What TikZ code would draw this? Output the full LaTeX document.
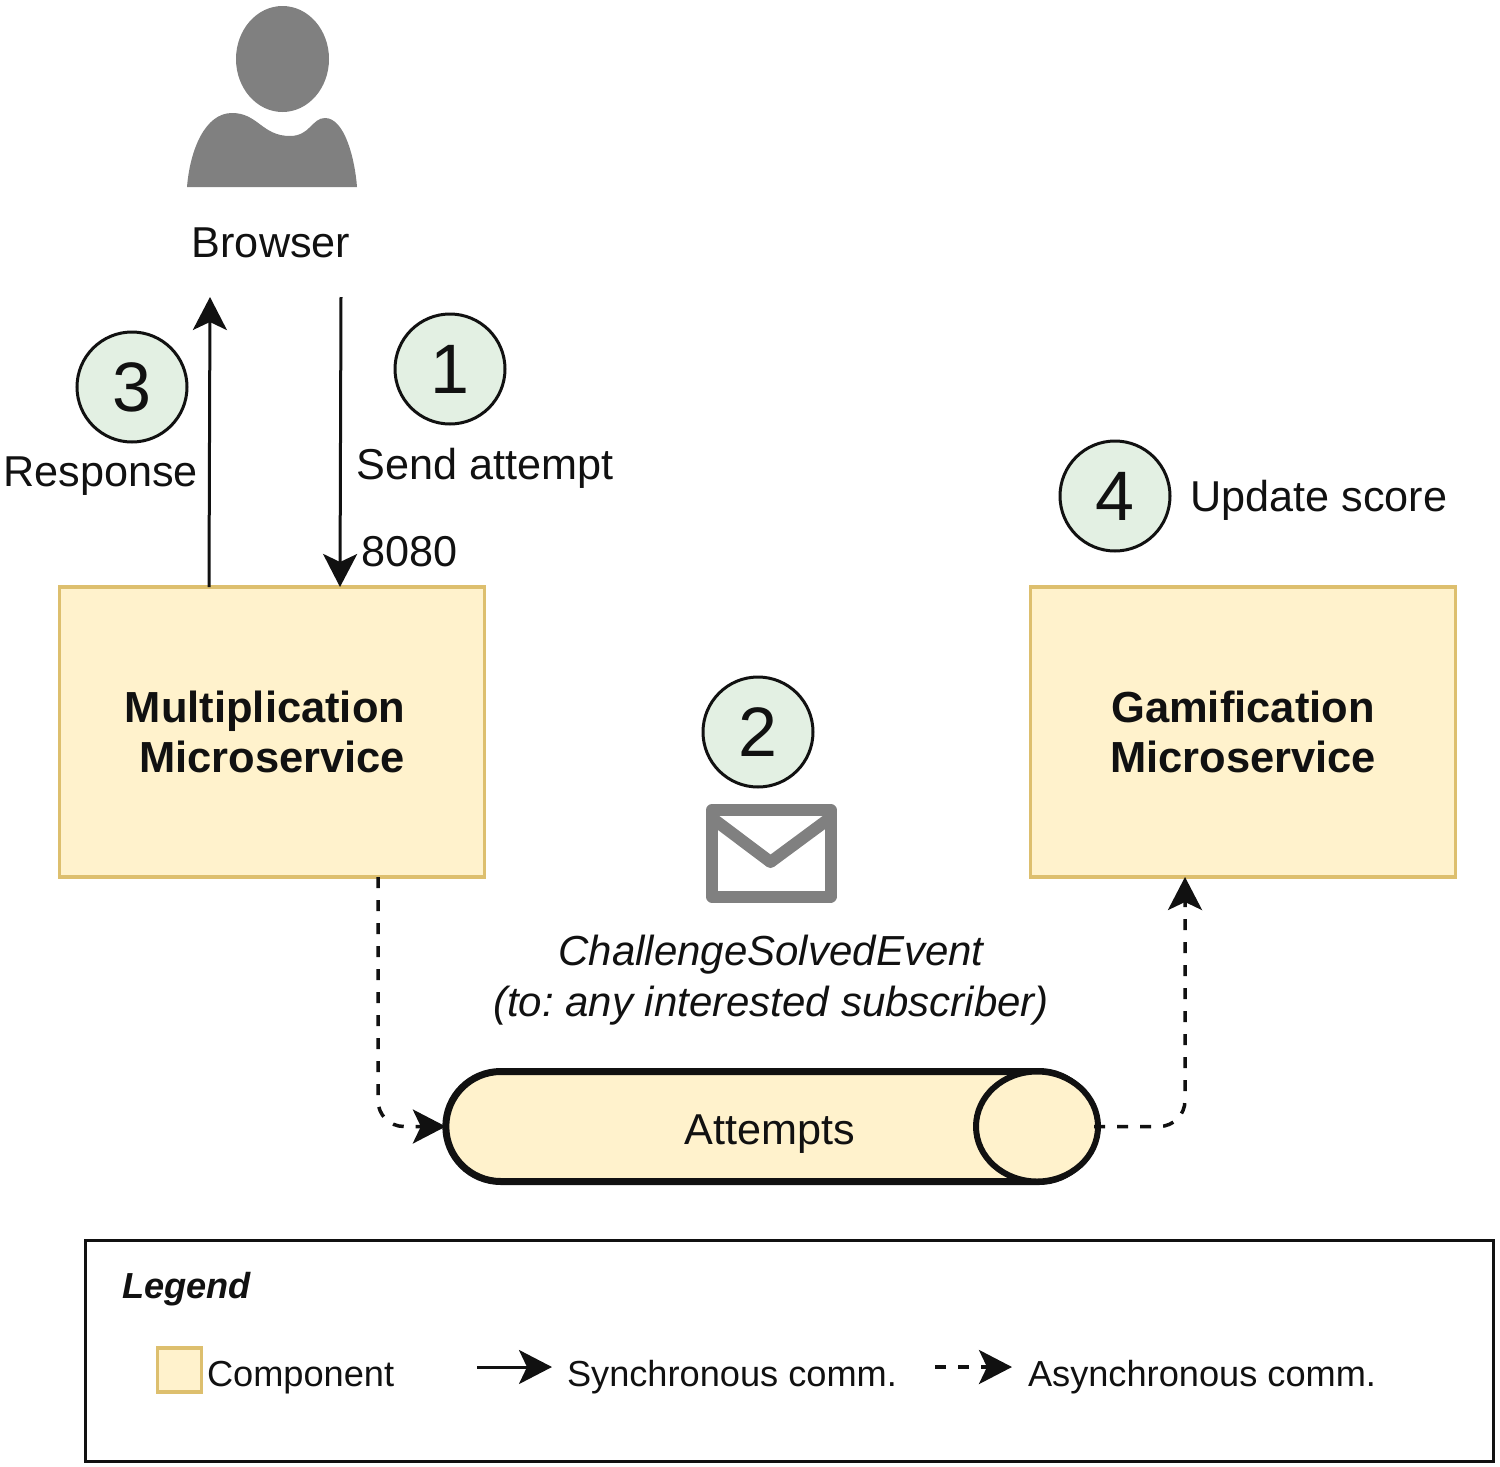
\documentclass[tikz,border=0pt]{standalone}
\usepackage{fontspec}
\setmainfont{Liberation Sans}
\usepackage{xcolor}
\usetikzlibrary{positioning,arrows.meta,shapes.misc,shapes.geometric}
\definecolor{compfill}{HTML}{FFF2CC}
\definecolor{compline}{HTML}{DDBF6E}
\definecolor{stepfill}{HTML}{E3F0E3}
\definecolor{iconcol}{HTML}{808080}
\definecolor{inkcol}{HTML}{111111}
\frenchspacing

\begin{document}
\begin{tikzpicture}[x=1pt,y=-1pt,node distance=0pt,outer sep=0pt,text=inkcol,font=\fontsize{43.2}{50}\selectfont]
    \tikzstyle{Comp} = [rectangle, minimum width=425pt, minimum height=290pt, align=center, draw=compline, line width=3.5pt, fill=compfill, font=\fontsize{43.5}{50}\selectfont\bfseries]
    \tikzstyle{StepNum} = [circle, minimum size=110pt, inner sep=0pt, draw=inkcol, line width=3pt, fill=stepfill, font=\fontsize{70}{70}\selectfont]
    \tikzstyle{Lbl} = [anchor=base west, inner sep=0pt]
    \tikzstyle{LegLbl} = [anchor=base west, inner sep=0pt, font=\fontsize{36.2}{40}\selectfont]
    \tikzstyle{Sync} = [draw=inkcol, line width=3pt, -{Stealth[length=33pt,width=34pt,inset=8pt]}]
    \tikzstyle{Async} = [Sync, line width=3.5pt, dash pattern=on 11pt off 12pt]
    \useasboundingbox (0,0) rectangle (1500,1467);

    % browser icon
    \fill[iconcol] (282.5,59) ellipse [x radius=46.5, y radius=53];
    \fill[iconcol] (187,187) .. controls (190,150) and (205,113) .. (232,113) .. controls (258,113) and (262,136) .. (290,136) .. controls (310,136) and (312,118) .. (325,118) .. controls (345,118) and (355,160) .. (357,187) -- cycle;
    \node (browser) [anchor=base, inner sep=0pt] at (271,257) {Browser};

    % microservices
    \node (mult) [Comp] at (272,732) {Multiplication\hspace*{14pt}\\Microservice};
    \node (gam)  [Comp,right=546pt of mult] {Gamification\\Microservice};

    % numbered steps
    \node (s1) [StepNum] at (450,369) {1};
    \node (s2) [StepNum] at (758,732) {2};
    \node (s3) [StepNum] at (132,387) {3};
    \node (s4) [StepNum] at (1115,496) {4};
    \node (l1) [Lbl] at (356.5,479) {Send attempt};
    \node (l3) [Lbl] at (3.5,486.5) {Response};
    \node (l4) [Lbl] at (1190.5,511) {Update score};
    \node (port) [Lbl] at (361.5,566) {8080};

    % event envelope
    \draw[iconcol, line width=12pt, line join=round] (712,810) rectangle (830.5,896.5);
    \draw[iconcol, line width=12pt, line join=round] (712,818) -- (770.5,862) -- (830,818);
    \node (event) [align=center, inner sep=0pt, anchor=base, font=\fontsize{42}{51}\selectfont\itshape] at (771,1016) {ChallengeSolvedEvent\\(to: any interested subscriber)};

    % topic
    \node (topic) [rounded rectangle, minimum width=655pt, minimum height=110pt, draw=inkcol, line width=7pt, fill=compfill] at (770,1126.5) {};
    \node (topicend) [ellipse, minimum width=122pt, minimum height=110pt, inner sep=0pt, draw=inkcol, line width=6pt, fill=compfill] at (1037,1126.5) {};
    \node (topiclbl) [anchor=base, inner sep=0pt] at (770,1144) {Attempts};

    % connectors
    \coordinate (brin)  at (210,297);
    \coordinate (brout) at (341,297);
    \draw[Sync] ([xshift=-63pt]mult.north) -- (brin);
    \draw[Sync] (brout) -- ([xshift=68pt]mult.north);
    \draw[Async, rounded corners=26pt] ([xshift=106pt]mult.south) |- (topic.west);
    \draw[Async, rounded corners=26pt] (topic.east) -| ([xshift=-58pt]gam.south);

    % legend
    \node (legend) [rectangle, minimum width=1408pt, minimum height=221pt, draw=inkcol, line width=3pt] at (789,1350.5) {};
    \node (legtitle) [LegLbl, font=\fontsize{36.2}{40}\selectfont\bfseries\itshape] at (122,1298) {Legend};
    \node (legcomp) [rectangle, minimum size=44pt, draw=compline, line width=3.5pt, fill=compfill] at (179.5,1370) {};
    \node (legcomplbl) [LegLbl] at (207,1386) {Component};
    \coordinate (syncfrom) at (477,1367);
    \coordinate (syncto)   at (552,1367);
    \draw[Sync] (syncfrom) -- (syncto);
    \node (legsync) [LegLbl] at (567,1386) {Synchronous comm.};
    \coordinate (asyncfrom) at (935,1367);
    \coordinate (asyncto)   at (1012,1367);
    \draw[Async] (asyncfrom) -- (asyncto);
    \node (legasync) [LegLbl] at (1028,1386) {Asynchronous comm.};
\end{tikzpicture}
\end{document}
